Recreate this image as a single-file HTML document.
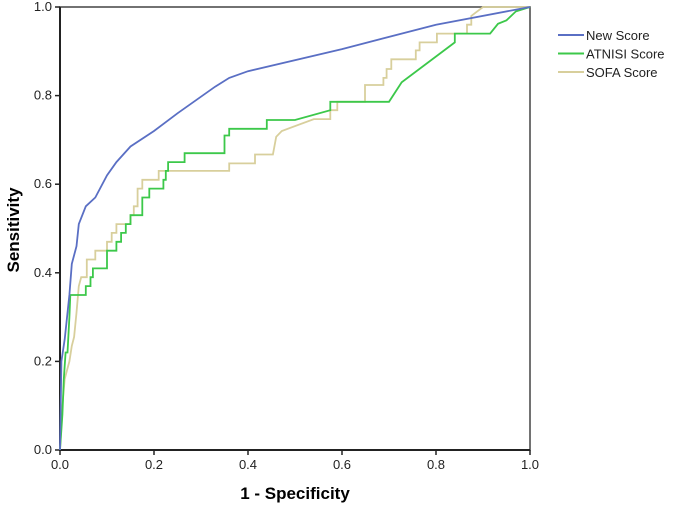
<!DOCTYPE html>
<html><head><meta charset="utf-8"><style>
body{margin:0;background:#fff;}
svg{display:block;font-family:"Liberation Sans",Arial,sans-serif;}
</style></head><body>
<svg width="675" height="507">
<g id="axes"></g>
<g id="series"></g>
<g id="legend"></g>
<text x="295" y="499" text-anchor="middle" font-weight="bold" font-size="17" fill="#000">1 - Specificity</text>
<text transform="translate(19,230) rotate(-90)" text-anchor="middle" font-weight="bold" font-size="17" fill="#000">Sensitivity</text>
</svg>
<script>
const ticks=[0,0.2,0.4,0.6,0.8,1.0];
const tickLabels=["0.0","0.2","0.4","0.6","0.8","1.0"];
const seriesNames=["New Score","ATNISI Score","SOFA Score"];
const seriesColors=["#5a6fc4","#3cc84a","#d8cf9c"];
const newX=[0,0.003,0.01,0.02,0.025,0.035,0.04,0.055,0.075,0.1,0.12,0.15,0.2,0.25,0.33,0.36,0.4,0.6,0.8,1];
const newY=[0,0.2,0.25,0.35,0.42,0.46,0.51,0.55,0.57,0.62,0.65,0.685,0.72,0.76,0.82,0.84,0.855,0.905,0.96,1];
const atX=[0,0.005,0.008,0.012,0.016,0.02,0.022,0.055,0.055,0.065,0.065,0.07,0.07,0.075,0.075,0.1,0.1,0.12,0.12,0.13,0.13,0.14,0.14,0.15,0.15,0.155,0.155,0.175,0.175,0.19,0.19,0.22,0.22,0.225,0.225,0.23,0.23,0.24,0.24,0.265,0.265,0.35,0.35,0.36,0.36,0.44,0.44,0.5,0.575,0.575,0.7,0.727,0.84,0.84,0.915,0.932,0.95,0.97,1];
const atY=[0,0.08,0.16,0.22,0.22,0.3,0.35,0.35,0.37,0.37,0.39,0.39,0.41,0.41,0.41,0.41,0.45,0.45,0.47,0.47,0.49,0.49,0.51,0.51,0.53,0.53,0.53,0.53,0.57,0.57,0.59,0.59,0.61,0.61,0.63,0.63,0.65,0.65,0.65,0.65,0.67,0.67,0.71,0.71,0.725,0.725,0.745,0.745,0.767,0.786,0.786,0.83,0.92,0.94,0.94,0.962,0.97,0.99,1];
const soX=[0,0.005,0.01,0.01,0.015,0.015,0.02,0.02,0.025,0.025,0.03,0.03,0.035,0.035,0.04,0.04,0.045,0.045,0.057,0.057,0.075,0.075,0.1,0.1,0.11,0.11,0.12,0.12,0.15,0.15,0.157,0.157,0.165,0.165,0.175,0.175,0.21,0.21,0.36,0.36,0.415,0.415,0.453,0.46,0.472,0.54,0.575,0.575,0.59,0.59,0.649,0.649,0.688,0.688,0.695,0.695,0.705,0.705,0.757,0.757,0.765,0.765,0.802,0.802,0.866,0.866,0.875,0.875,0.9,1];
const soY=[0,0.1,0.16,0.16,0.18,0.18,0.2,0.2,0.235,0.235,0.255,0.255,0.31,0.31,0.37,0.37,0.39,0.39,0.39,0.43,0.43,0.45,0.45,0.47,0.47,0.49,0.49,0.51,0.51,0.53,0.53,0.55,0.55,0.59,0.59,0.61,0.61,0.63,0.63,0.647,0.647,0.667,0.667,0.707,0.72,0.747,0.747,0.767,0.767,0.786,0.786,0.824,0.824,0.84,0.84,0.86,0.86,0.882,0.882,0.902,0.902,0.92,0.92,0.94,0.94,0.96,0.96,0.98,1,1];
const L=60,R=530,T=7,B=450;
const sx=v=>L+v*(R-L), sy=v=>B-v*(B-T);
const NS="http://www.w3.org/2000/svg";
function mk(tag,attrs,parent){const e=document.createElementNS(NS,tag);for(const k in attrs)e.setAttribute(k,attrs[k]);parent.appendChild(e);return e;}
const ax=document.getElementById('axes');
const frame=mk('rect',{x:L,y:T,width:R-L,height:B-T,fill:'none',stroke:'#444','stroke-width':1.5},ax);


const lft=mk('line',{x1:L,y1:T,x2:L,y2:B+1,stroke:'#222','stroke-width':2},ax);


const btm=mk('line',{x1:L-1,y1:B,x2:R,y2:B,stroke:'#222','stroke-width':2},ax);


ticks.forEach((t,i)=>{
 const a=mk('line',{x1:sx(t),y1:B,x2:sx(t),y2:B+5,stroke:'#222','stroke-width':1.5},ax);
 
 
 const at=mk('text',{x:sx(t),y:B+19,'text-anchor':'middle','font-size':13,fill:'#222'},ax);at.textContent=tickLabels[i];
 
 
 const b=mk('line',{x1:L-5,y1:sy(t),x2:L,y2:sy(t),stroke:'#222','stroke-width':1.5},ax);
 
 
 const bt=mk('text',{x:L-8,y:sy(t)+4,'text-anchor':'end','font-size':13,fill:'#222'},ax);bt.textContent=tickLabels[i];
 
 
});
const sg=document.getElementById('series');
const data=[[newX,newY],[atX,atY],[soX,soY]];
const order=[2,1,0];
order.forEach(i=>{
 const [xs,ys]=data[i];
 const pts=xs.map((x,j)=>sx(x).toFixed(1)+','+sy(ys[j]).toFixed(1)).join(' ');
 const p=mk('polyline',{points:pts,fill:'none',stroke:seriesColors[i],'stroke-width':1.8},sg);
 
 
});
const lg=document.getElementById('legend');
seriesNames.forEach((n,i)=>{
 const y=35+i*18.5;
 const ln=mk('line',{x1:558,y1:y,x2:584,y2:y,stroke:seriesColors[i],'stroke-width':2},lg);
 
 
 const tx=mk('text',{x:586,y:y+5,'font-size':13,fill:'#222'},lg);tx.textContent=n;
 
 
});
</script>
</body></html>
